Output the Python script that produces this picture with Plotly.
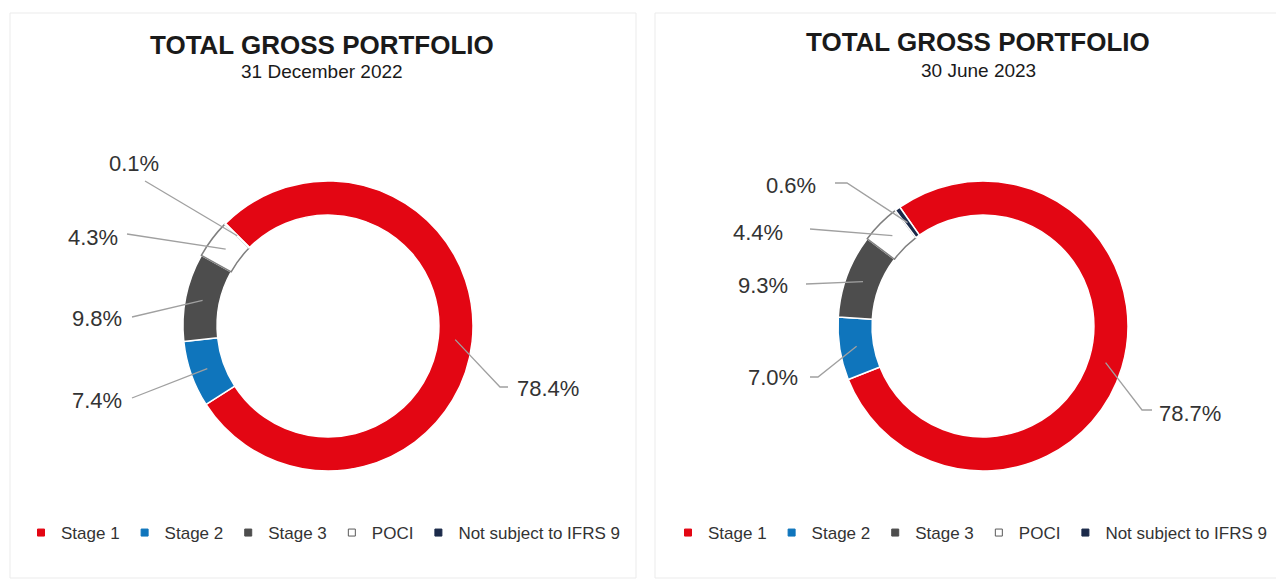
import math
import plotly.graph_objects as go

# ---------------- data ----------------
categories = ["Stage 1", "Stage 2", "Stage 3", "POCI", "Not subject to IFRS 9"]
values_dec2022 = [78.4, 7.4, 9.8, 4.3, 0.1]
values_jun2023 = [78.7, 7.0, 9.3, 4.4, 0.6]
chart_titles = ["TOTAL GROSS PORTFOLIO", "TOTAL GROSS PORTFOLIO"]
chart_dates = ["31 December 2022", "30 June 2023"]

# ---------------- styles ----------------
slice_colors = ["#E30613", "#0F75BC", "#4D4D4D", "#FFFFFF", "#1B2A4A"]
slice_line_colors = ["#FFFFFF", "#FFFFFF", "#FFFFFF", "#7F7F7F", "#FFFFFF"]
legend_line_colors = ["#E30613", "#0F75BC", "#4D4D4D", "#595959", "#1B2A4A"]
FONT = "Arial, Liberation Sans, Helvetica, sans-serif"
TEXT_COLOR = "#333333"
LEADER_COLOR = "#A0A0A0"
W, H = 1276, 585
HOLE = 0.765

# layout geometry for each panel (pixels); label placement per slice:
# (text_x, text_y, line_start_x, line_start_y, elbow_x or None)
panels = [
    dict(values=values_dec2022, title=chart_titles[0], date=chart_dates[0],
         cx=328, cy=326, r=145, rotation=-45, title_x=322, title_y=45, date_y=71,
         legend="legend", legend_x=21,
         frame=(10, 13, 636, 578),
         labels=[(548, 388, 508, 387, 500),
                 (97, 400, 132, 398, None),
                 (97, 318, 132, 317, None),
                 (93, 237, 127, 234, None),
                 (134, 163, 145, 181, None)]),
    dict(values=values_jun2023, title=chart_titles[1], date=chart_dates[1],
         cx=983, cy=326, r=145, rotation=-35, title_x=978, title_y=42, date_y=70,
         legend="legend2", legend_x=668,
         frame=(655, 13, 1290, 578),
         labels=[(1190, 413, 1152, 410, 1142),
                 (773, 377, 810, 377, 818),
                 (763, 285, 806, 284, None),
                 (758, 232, 810, 229, None),
                 (791, 185, 835, 183, 847)]),
]

fig = go.Figure()
shapes = []
annotations = []

for p in panels:
    vals = p["values"]
    cx, cy, r = p["cx"], p["cy"], p["r"]
    fig.add_trace(go.Pie(
        labels=categories, values=vals, hole=HOLE, sort=False,
        direction="clockwise", rotation=p["rotation"],
        marker=dict(colors=slice_colors, line=dict(color=slice_line_colors, width=1.5)),
        textinfo="none", hoverinfo="label+percent", showlegend=False,
        domain=dict(x=[(cx - r) / W, (cx + r) / W],
                    y=[(H - cy - r) / H, (H - cy + r) / H]),
    ))
    # leader lines + labels
    total = sum(vals)
    cum = 0.0
    rm = r * (1 + HOLE) / 2
    for v, lab in zip(vals, p["labels"]):
        theta = math.radians(p["rotation"] + 360.0 * (cum + v / 2) / total)
        cum += v
        ax = cx + rm * math.sin(theta)
        ay = cy - rm * math.cos(theta)
        tx, ty, sx, sy, ex = lab
        if ex is None:
            path = f"M {sx},{sy} L {ax:.1f},{ay:.1f}"
        else:
            path = f"M {sx},{sy} L {ex},{sy} L {ax:.1f},{ay:.1f}"
        shapes.append(dict(type="path", path=path, xref="x", yref="y",
                           line=dict(color=LEADER_COLOR, width=1.3), layer="above"))
        annotations.append(dict(x=tx, y=ty, xref="x", yref="y", showarrow=False,
                                text=f"{v:.1f}%", xanchor="center", yanchor="middle",
                                font=dict(family=FONT, size=22, color=TEXT_COLOR)))
    # titles
    annotations.append(dict(x=p["title_x"], y=p["title_y"], xref="x", yref="y",
                            showarrow=False, text=f"<b>{p['title']}</b>",
                            xanchor="center", yanchor="middle",
                            font=dict(family=FONT, size=26, color="#1a1a1a")))
    annotations.append(dict(x=p["title_x"], y=p["date_y"], xref="x", yref="y",
                            showarrow=False, text=p["date"],
                            xanchor="center", yanchor="middle",
                            font=dict(family=FONT, size=19, color="#1a1a1a")))
    # panel frame
    fx0, fy0, fx1, fy1 = p["frame"]
    shapes.append(dict(type="rect", x0=fx0, y0=fy0, x1=fx1, y1=fy1, xref="x", yref="y",
                       line=dict(color="#EBEBEB", width=1), layer="below"))
    # legend entries
    for cat, col, lcol in zip(categories, slice_colors, legend_line_colors):
        fig.add_trace(go.Scatter(
            x=[None], y=[None], mode="markers", name=cat, legend=p["legend"],
            marker=dict(symbol="square", size=7, color=col, line=dict(color=lcol, width=1)),
            hoverinfo="skip", showlegend=True,
        ))

legend_common = dict(orientation="h", yanchor="middle", xanchor="left",
                     font=dict(family=FONT, size=17, color=TEXT_COLOR),
                     bgcolor="rgba(0,0,0,0)", itemwidth=30, tracegroupgap=0,
                     borderwidth=0, itemclick=False, itemdoubleclick=False)

fig.update_layout(
    width=W, height=H, margin=dict(l=0, r=0, t=0, b=0, autoexpand=False),
    paper_bgcolor="white", plot_bgcolor="white",
    xaxis=dict(range=[0, W], visible=False, fixedrange=True, domain=[0, 1]),
    yaxis=dict(range=[H, 0], visible=False, fixedrange=True, domain=[0, 1]),
    shapes=shapes, annotations=annotations,
    legend=dict(x=panels[0]["legend_x"] / W, y=1 - 533 / H, **legend_common),
    legend2=dict(x=panels[1]["legend_x"] / W, y=1 - 533 / H, **legend_common),
    font=dict(family=FONT),
)

fig.write_html("out.html", config={"displayModeBar": False},
               post_script="document.body.style.margin='0';document.body.style.overflow='hidden';")
